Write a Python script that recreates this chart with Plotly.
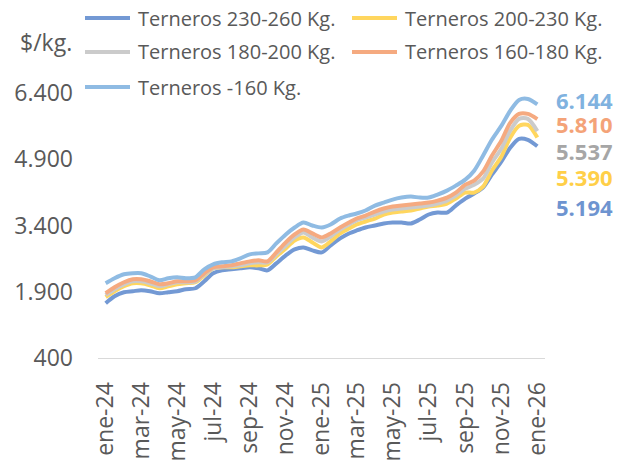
import plotly.graph_objects as go
from datetime import date

# Fechas quincenales (1 y 16 de cada mes), ene-24 a ene-26
fechas = []
for anio in (2024, 2025):
    for mes in range(1, 13):
        fechas += [date(anio, mes, 1), date(anio, mes, 16)]
fechas.append(date(2026, 1, 1))

# Precios $/kg
t_230_260 = [1641, 1799, 1889, 1912, 1934, 1912, 1866, 1889, 1912, 1957,
             1979, 2137, 2318, 2385, 2408, 2430, 2453, 2430, 2385, 2543,
             2724, 2859, 2904, 2836, 2791, 2949, 3107, 3220, 3288, 3355,
             3400, 3446, 3468, 3468, 3446, 3536, 3649, 3694, 3694, 3852,
             4010, 4122, 4258, 4551, 4844, 5160, 5363, 5341, 5194]
t_200_230 = [1776, 1912, 2024, 2092, 2092, 2047, 1979, 2024, 2069, 2092,
             2115, 2272, 2430, 2453, 2453, 2476, 2498, 2498, 2521, 2701,
             2882, 3062, 3130, 3017, 2904, 3040, 3220, 3333, 3423, 3491,
             3558, 3649, 3694, 3716, 3739, 3784, 3829, 3852, 3897, 4010,
             4145, 4145, 4280, 4641, 4957, 5386, 5656, 5679, 5390]
t_180_200 = [1821, 1957, 2069, 2137, 2137, 2092, 2024, 2069, 2115, 2115,
             2137, 2295, 2430, 2453, 2476, 2498, 2543, 2566, 2566, 2746,
             2949, 3130, 3243, 3130, 3040, 3152, 3310, 3423, 3513, 3581,
             3649, 3716, 3761, 3784, 3807, 3829, 3852, 3897, 3964, 4077,
             4235, 4325, 4461, 4822, 5138, 5544, 5814, 5814, 5537]
t_160_180 = [1866, 2002, 2115, 2182, 2182, 2137, 2069, 2092, 2137, 2137,
             2160, 2318, 2453, 2476, 2498, 2543, 2588, 2611, 2588, 2791,
             3017, 3197, 3310, 3220, 3130, 3220, 3355, 3468, 3558, 3626,
             3716, 3784, 3829, 3852, 3874, 3897, 3919, 3964, 4032, 4145,
             4325, 4416, 4619, 4980, 5318, 5724, 5927, 5927, 5810]
t_menos_160 = [2092, 2205, 2295, 2318, 2318, 2250, 2160, 2205, 2227, 2205,
               2227, 2408, 2521, 2566, 2588, 2656, 2746, 2769, 2791, 2994,
               3197, 3355, 3468, 3400, 3355, 3423, 3558, 3626, 3671, 3739,
               3852, 3919, 3987, 4032, 4055, 4032, 4032, 4100, 4190, 4303,
               4438, 4641, 4980, 5341, 5656, 5995, 6243, 6266, 6144]

nombres = ["Terneros 230-260 Kg.", "Terneros 200-230 Kg.", "Terneros 180-200 Kg.",
           "Terneros 160-180 Kg.", "Terneros -160 Kg."]
series = [t_230_260, t_200_230, t_180_200, t_160_180, t_menos_160]

tick_fechas = ["2024-01-01", "2024-03-01", "2024-05-01", "2024-07-01", "2024-09-01",
               "2024-11-01", "2025-01-01", "2025-03-01", "2025-05-01", "2025-07-01",
               "2025-09-01", "2025-11-01", "2026-01-01"]
tick_textos = ["ene-24", "mar-24", "may-24", "jul-24", "sep-24", "nov-24", "ene-25",
               "mar-25", "may-25", "jul-25", "sep-25", "nov-25", "ene-26"]

colores = ["#7399D4", "#FFD65E", "#CBCBCB", "#F5AA80", "#8FBBE3"]
colores_etiqueta = ["#6E94D0", "#FFCF48", "#A6A6A6", "#F4A378", "#80B2DF"]

# la pagina html deja 8 px de margen en el body
borde = 8
ancho, alto = 621 - borde, 463 - borde
# area de trazado en pixeles de pantalla (izq, der, arriba, abajo)
px_izq, px_der, px_arr, px_aba = 98, 545, 93, 358

# leyenda dibujada a mano: (px inicio linea, px centro vertical)
ley_pos = [(85, 18), (352, 18), (85, 52), (352, 52), (85, 87)]
ley_largo = 45
# posicion vertical (px desde arriba) de cada etiqueta final
etiqueta_px = [207, 177, 151, 124, 100]

gris = "#595959"
fuente = "Open Sans"


def fx(px):
    return (px - borde) / ancho


def fy(py):
    return 1 - (py - borde) / alto


fig = go.Figure()
for nombre, valores, color in zip(nombres, series, colores):
    fig.add_trace(go.Scatter(
        x=fechas, y=valores, name=nombre, mode="lines",
        line=dict(color=color, width=4, shape="spline", smoothing=0.8),
    ))

# leyenda
for nombre, color, (px, py) in zip(nombres, colores, ley_pos):
    fig.add_shape(type="line", xref="paper", yref="paper",
                  x0=fx(px), x1=fx(px + ley_largo), y0=fy(py), y1=fy(py),
                  line=dict(color=color, width=4))
    fig.add_annotation(
        x=fx(px + ley_largo + 6), xref="paper", xanchor="left",
        y=fy(py), yref="paper", yanchor="middle",
        text=nombre, showarrow=False,
        font=dict(family=fuente, size=20, color=gris),
    )

# valores finales
for valores, color, py in zip(series, colores_etiqueta, etiqueta_px):
    fig.add_annotation(
        x=fx(px_der), xref="paper", xanchor="left", xshift=9,
        y=fy(py), yref="paper", yanchor="middle",
        text="<b>" + f"{valores[-1]:,}".replace(",", ".") + "</b>",
        showarrow=False, font=dict(family=fuente, size=22, color=color),
    )

fig.add_annotation(
    x=fx(74), xref="paper", xanchor="right",
    y=fy(42), yref="paper", yanchor="middle",
    text="$/kg.", showarrow=False, font=dict(family=fuente, size=23, color=gris),
)

fig.update_layout(
    width=ancho, height=alto,
    margin=dict(l=0, r=0, t=0, b=0),
    paper_bgcolor="white", plot_bgcolor="white",
    font=dict(family=fuente, size=23, color=gris),
    showlegend=False,
    xaxis=dict(
        domain=[fx(px_izq), fx(px_der)],
        type="date", range=["2023-12-19", "2026-01-14"],
        tickvals=tick_fechas, ticktext=tick_textos, tickangle=-90,
        showgrid=False, zeroline=False, showline=True, linecolor="#D9D9D9",
        linewidth=1, ticks="", ticklabelstandoff=14, automargin=False,
        tickfont=dict(family=fuente, size=23, color=gris),
    ),
    yaxis=dict(
        domain=[fy(px_aba), fy(px_arr)],
        range=[400, 6400], tickvals=[400, 1900, 3400, 4900, 6400],
        ticktext=["400", "1.900", "3.400", "4.900", "6.400"],
        showgrid=False, zeroline=False, showline=False, ticks="",
        ticklabelstandoff=24, automargin=False,
        tickfont=dict(family=fuente, size=23, color=gris),
    ),
)

fig.write_html("out.html")
